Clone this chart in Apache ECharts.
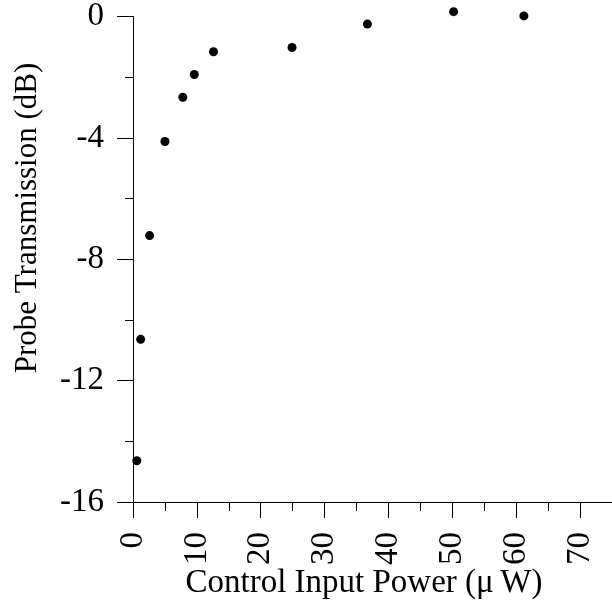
<!DOCTYPE html>
<html>
<head>
<meta charset="utf-8">
<script src="https://cdn.jsdelivr.net/npm/echarts@6/dist/echarts.min.js"></script>
<style>
html,body{margin:0;padding:0;background:#fff;}
#chart{width:612px;height:603px;}
</style>
</head>
<body>
<div id="chart"></div>
<script>
var powerUW = [0.6, 1.2, 2.6, 5.0, 7.8, 9.6, 12.6, 24.9, 36.7, 50.2, 61.2];
var transmissionDB = [-14.64, -10.64, -7.22, -4.12, -2.66, -1.91, -1.16, -1.02, -0.25, 0.16, 0.02];
var xTitle = 'Control Input Power (\u03bc\u2009W)';
var yTitle = 'Probe Transmission (dB)';

var points = powerUW.map(function (x, i) { return [x, transmissionDB[i]]; });
var font = 'Liberation Serif';

var chart = echarts.init(document.getElementById('chart'), null, {renderer: 'canvas'});
chart.setOption({
  animation: false,
  backgroundColor: '#fff',
  grid: {left: 133, top: 16, width: 485, height: 486, containLabel: false},
  xAxis: {
    type: 'value', min: 0, max: 75, interval: 10,
    axisLine: {show: true, onZero: false, lineStyle: {color: '#000', width: 1}},
    axisTick: {show: true, length: 16, lineStyle: {color: '#000', width: 1}},
    minorTick: {show: true, splitNumber: 2, length: 9, lineStyle: {color: '#000', width: 1}},
    splitLine: {show: false},
    axisLabel: {rotate: 90, margin: 30, color: '#000', fontFamily: font, fontSize: 33,
      showMaxLabel: false}
  },
  yAxis: {
    type: 'value', min: -16, max: 0, interval: 4,
    axisLine: {show: true, onZero: false, lineStyle: {color: '#000', width: 1}},
    axisTick: {show: true, length: 16, lineStyle: {color: '#000', width: 1}},
    minorTick: {show: true, splitNumber: 2, length: 8, lineStyle: {color: '#000', width: 1}},
    splitLine: {show: false},
    axisLabel: {margin: 29, color: '#000', fontFamily: font, fontSize: 33}
  },
  graphic: [
    {type: 'text', x: 28, y: 218, rotation: Math.PI / 2,
      style: {text: yTitle, fontFamily: font, fontSize: 31, fill: '#000',
        align: 'center', verticalAlign: 'middle'}},
    {type: 'text', x: 364, y: 583,
      style: {text: xTitle, fontFamily: font, fontSize: 33, fill: '#000',
        align: 'center', verticalAlign: 'middle'}}
  ],
  series: [{
    type: 'scatter', data: points, symbol: 'circle', symbolSize: 9, clip: false,
    itemStyle: {color: '#000', opacity: 1}
  }]
});
</script>
</body>
</html>
